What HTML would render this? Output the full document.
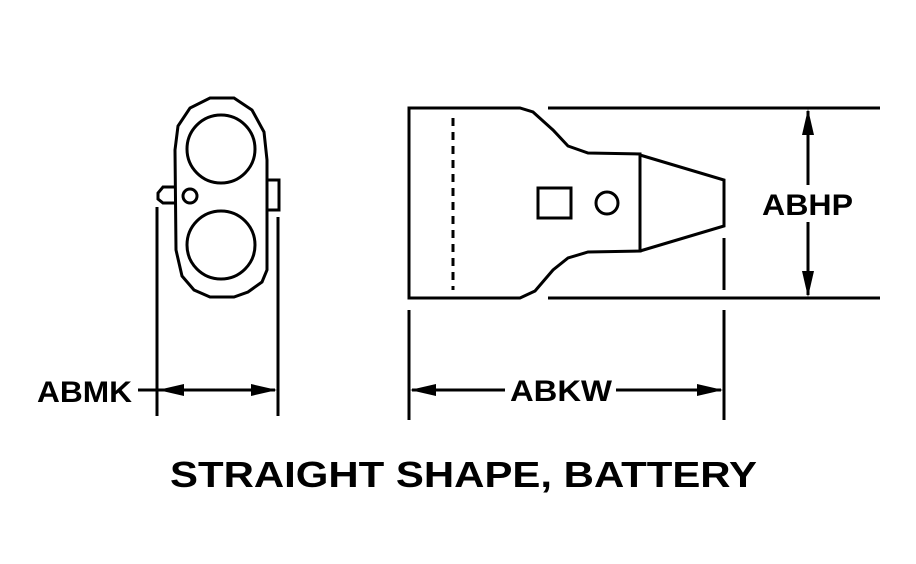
<!DOCTYPE html>
<html><head><style>body{margin:0;background:#fff}svg{display:block}</style></head><body>
<svg width="916" height="564" viewBox="0 0 916 564" xmlns="http://www.w3.org/2000/svg">
<g fill="none" stroke="#000" stroke-width="3">
<path d="M210,98 L234,98 L252,110 L264,132 L267,160 L267,270 L262,282 L248,292 L234,297 L210,297 L194,290 L182,276 L176,250 L175,150 L178,126 L190,108 Z"/>
<circle cx="221" cy="149" r="34"/>
<circle cx="221" cy="245" r="34"/>
<circle cx="190" cy="196" r="7"/>
<path d="M175,187 L163,187 L158,193 L158,199 L163,203 L175,203"/>
<path d="M268,180 L279,180 L279,210 L268,210"/>
<line x1="157" y1="207" x2="157" y2="416"/>
<line x1="278" y1="217" x2="278" y2="416"/>
<line x1="138" y1="390" x2="275" y2="390"/>
<path d="M409,108 L520,108 L533,112 L553,130 L568,146 L588,153 L640,154 L640,251 L588,252 L568,258 L553,270 L535,291 L520,298 L409,298 Z"/>
<path d="M640,155 L724,180 L724,226 L640,251"/>
<line x1="453" y1="118" x2="453" y2="290" stroke-dasharray="8,6"/>
<rect x="538" y="188" width="33" height="30"/>
<circle cx="607" cy="203" r="11"/>
<line x1="548" y1="108" x2="880" y2="108"/>
<line x1="548" y1="298" x2="880" y2="298"/>
<line x1="724" y1="238" x2="724" y2="290"/>
<line x1="409" y1="310" x2="409" y2="420"/>
<line x1="724" y1="310" x2="724" y2="420"/>
<line x1="412" y1="390" x2="505" y2="390"/>
<line x1="616" y1="390" x2="721" y2="390"/>
<line x1="808" y1="111" x2="808" y2="185"/>
<line x1="808" y1="222" x2="808" y2="295"/>
</g>
<g fill="#000">
<polygon points="158,390 184,384 184,396"/>
<polygon points="277,390 251,384 251,396"/>
<polygon points="410,390 436,384 436,396"/>
<polygon points="723,390 697,384 697,396"/>
<polygon points="808,109 802,135 814,135"/>
<polygon points="808,297 802,271 814,271"/>
</g>
<g font-family="Liberation Sans, sans-serif" font-weight="bold" fill="#000" lengthAdjust="spacingAndGlyphs">
<text x="37" y="402" font-size="30" textLength="95" lengthAdjust="spacingAndGlyphs">ABMK</text>
<text x="510" y="401" font-size="30" textLength="102" lengthAdjust="spacingAndGlyphs">ABKW</text>
<text x="762" y="215" font-size="30" textLength="91" lengthAdjust="spacingAndGlyphs">ABHP</text>
<text x="170" y="487" font-size="36" textLength="587" lengthAdjust="spacingAndGlyphs">STRAIGHT SHAPE, BATTERY</text>
</g>
</svg>
</body></html>
